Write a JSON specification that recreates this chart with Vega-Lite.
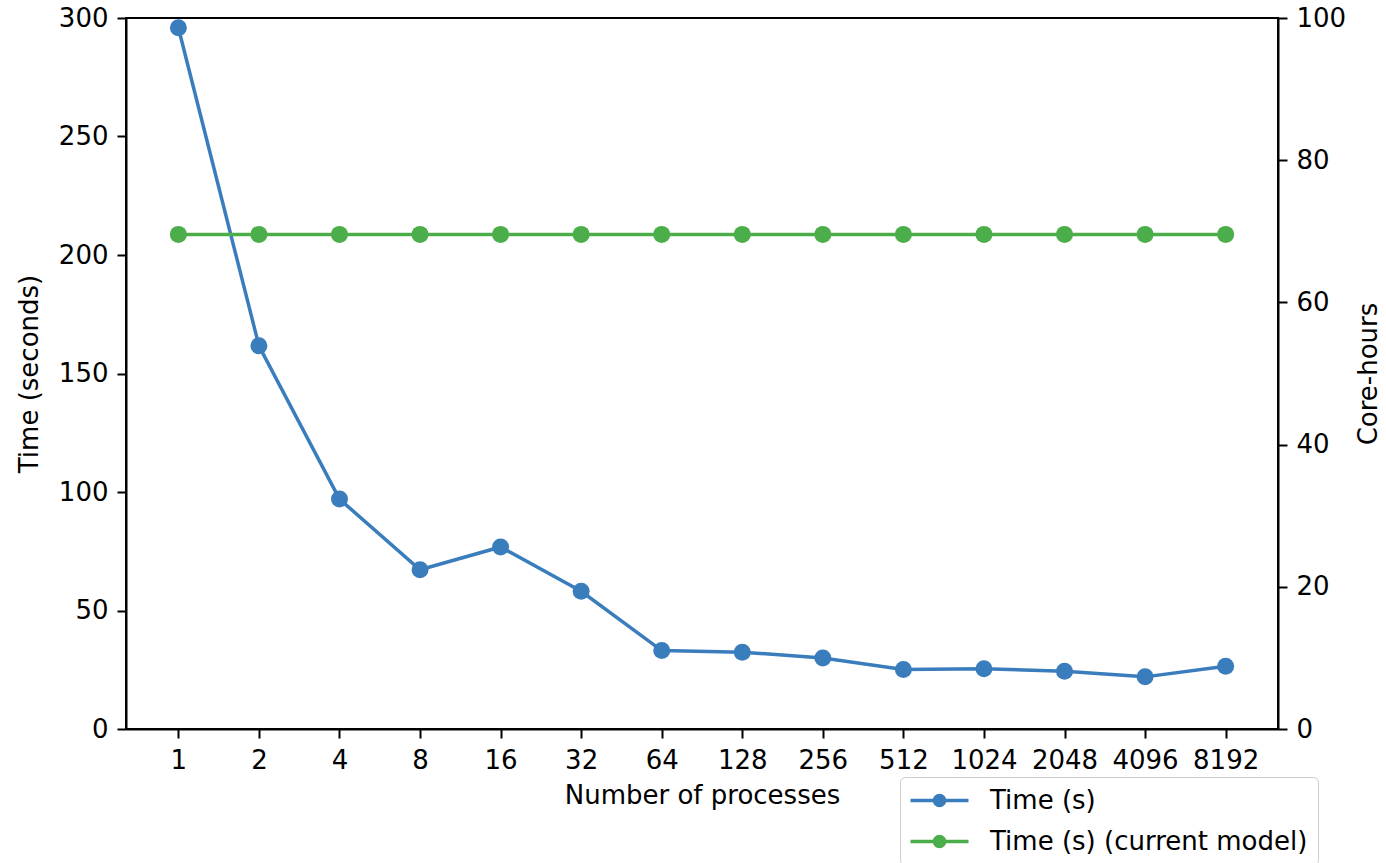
{
  "$schema": "https://vega.github.io/schema/vega-lite/v6.json",
  "autosize": "none",
  "width": 1152,
  "height": 711,
  "padding": {"left": 126, "top": 18, "right": 108, "bottom": 134},
  "background": "white",
  "config": {
    "font": "DejaVu Sans",
    "view": {"stroke": "black", "strokeWidth": 2},
    "axis": {
      "grid": false,
      "domainColor": "black",
      "domainWidth": 2,
      "tickColor": "black",
      "tickWidth": 2,
      "tickSize": 9,
      "labelFont": "DejaVu Sans",
      "labelFontSize": 26,
      "labelColor": "#000000",
      "labelPadding": 9,
      "titleFont": "DejaVu Sans",
      "titleFontSize": 26,
      "titleFontWeight": "normal",
      "titleColor": "#000000"
    },
    "legend": {
      "labelFont": "DejaVu Sans",
      "labelFontSize": 26,
      "labelColor": "#000000",
      "labelLimit": 0
    }
  },
  "data": {
    "values": [
      {"procs": 1, "series": "Time (s)", "time": 295.9},
      {"procs": 2, "series": "Time (s)", "time": 161.7},
      {"procs": 4, "series": "Time (s)", "time": 97.0},
      {"procs": 8, "series": "Time (s)", "time": 67.2},
      {"procs": 16, "series": "Time (s)", "time": 76.8},
      {"procs": 32, "series": "Time (s)", "time": 58.1},
      {"procs": 64, "series": "Time (s)", "time": 33.1},
      {"procs": 128, "series": "Time (s)", "time": 32.4},
      {"procs": 256, "series": "Time (s)", "time": 30.0},
      {"procs": 512, "series": "Time (s)", "time": 25.1},
      {"procs": 1024, "series": "Time (s)", "time": 25.4},
      {"procs": 2048, "series": "Time (s)", "time": 24.4},
      {"procs": 4096, "series": "Time (s)", "time": 22.0},
      {"procs": 8192, "series": "Time (s)", "time": 26.5},
      {"procs": 1, "series": "Time (s) (current model)", "time": 208.7},
      {"procs": 2, "series": "Time (s) (current model)", "time": 208.7},
      {"procs": 4, "series": "Time (s) (current model)", "time": 208.7},
      {"procs": 8, "series": "Time (s) (current model)", "time": 208.7},
      {"procs": 16, "series": "Time (s) (current model)", "time": 208.7},
      {"procs": 32, "series": "Time (s) (current model)", "time": 208.7},
      {"procs": 64, "series": "Time (s) (current model)", "time": 208.7},
      {"procs": 128, "series": "Time (s) (current model)", "time": 208.7},
      {"procs": 256, "series": "Time (s) (current model)", "time": 208.7},
      {"procs": 512, "series": "Time (s) (current model)", "time": 208.7},
      {"procs": 1024, "series": "Time (s) (current model)", "time": 208.7},
      {"procs": 2048, "series": "Time (s) (current model)", "time": 208.7},
      {"procs": 4096, "series": "Time (s) (current model)", "time": 208.7},
      {"procs": 8192, "series": "Time (s) (current model)", "time": 208.7}
    ]
  },
  "encoding": {
    "x": {
      "field": "procs",
      "type": "ordinal",
      "scale": {"type": "point", "padding": 0.65},
      "axis": {"title": "Number of processes", "labelAngle": 0, "titlePadding": 9}
    }
  },
  "layer": [
    {
      "encoding": {
        "y": {
          "field": "time",
          "type": "quantitative",
          "scale": {"domain": [0, 300], "nice": false},
          "axis": {"title": "Time (seconds)", "values": [0, 50, 100, 150, 200, 250, 300], "titlePadding": 16}
        },
        "color": {
          "field": "series",
          "type": "nominal",
          "scale": {"domain": ["Time (s)", "Time (s) (current model)"], "range": ["#3a7dbd", "#4cae4a"]},
          "legend": {
            "title": null,
            "orient": "none",
            "legendX": 774,
            "legendY": 759,
            "padding": 10,
            "cornerRadius": 5,
            "strokeColor": "#cccccc",
            "fillColor": "white",
            "symbolType": "M-2.5,0H2.5M-0.44,0A0.44,0.44,0,1,1,0.44,0A0.44,0.44,0,1,1,-0.44,0Z",
            "symbolSize": 538,
            "symbolStrokeWidth": 3.5,
            "symbolOffset": 16,
            "labelOffset": 37,
            "labelLimit": 0,
            "rowPadding": 14,
            "encode": {
              "symbols": {
                "update": {
                  "fill": {"scale": "color", "field": "value"},
                  "stroke": {"scale": "color", "field": "value"},
                  "fillOpacity": {"value": 1},
                  "opacity": {"value": 1}
                }
              }
            }
          }
        }
      },
      "layer": [
        {"mark": {"type": "line", "strokeWidth": 3.5}},
        {"mark": {"type": "point", "filled": true, "opacity": 1, "size": 289}}
      ]
    },
    {
      "data": {"values": [{"core_hours": 0}]},
      "mark": {"type": "rule", "opacity": 0},
      "encoding": {
        "x": null,
        "y": {
          "field": "core_hours",
          "type": "quantitative",
          "scale": {"domain": [0, 100], "nice": false},
          "axis": {"orient": "right", "title": "Core-hours", "titleAngle": 270, "values": [0, 20, 40, 60, 80, 100], "titlePadding": 36}
        }
      }
    }
  ],
  "resolve": {"scale": {"y": "independent"}}
}
